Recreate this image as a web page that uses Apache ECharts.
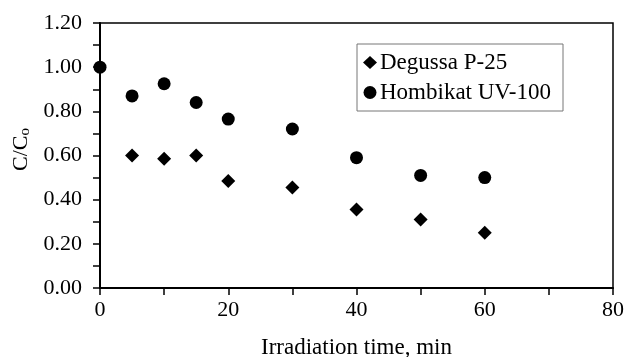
<!DOCTYPE html>
<html>
<head>
<meta charset="utf-8">
<script src="https://cdn.jsdelivr.net/npm/echarts@6/dist/echarts.min.js"></script>
<style>
  html, body { margin: 0; padding: 0; background: #fff; }
  #chart { width: 626px; height: 357px; }
</style>
</head>
<body>
<div id="chart"></div>
<script>
// irradiation time (min)
const TIMES_DEGUSSA = [5, 10, 15, 20, 30, 40, 50, 60]
const TIMES_HOMBIKAT = [0, 5, 10, 15, 20, 30, 40, 50, 60]
// C/Co
const DEGUSSA = [0.60, 0.585, 0.60, 0.485, 0.455, 0.355, 0.31, 0.25]
const HOMBIKAT = [1.00, 0.87, 0.925, 0.84, 0.765, 0.72, 0.59, 0.51, 0.50]

const FONT = 'Liberation Serif'
const pairs = (xs, ys) => xs.map((x, i) => [x, ys[i]])

const chart = echarts.init(document.getElementById('chart'))

chart.setOption({
  animation: false,
  textStyle: { fontFamily: FONT, color: '#000' },
  grid: {
    left: 100,
    right: 13,
    top: 23,
    bottom: 69,
    outerBoundsMode: 'none',
    show: true,
    borderColor: '#000',
    borderWidth: 1.5,
  },
  legend: {
    orient: 'vertical',
    left: 357,
    top: 44,
    padding: [7, 12, 7, 6],
    itemGap: 7,
    itemWidth: 14,
    itemHeight: 13,
    borderColor: '#777',
    borderWidth: 1,
    textStyle: { fontFamily: FONT, fontSize: 23, color: '#000', padding: [0, 0, 0, -2] },
    data: [
      { name: 'Degussa P-25', icon: 'diamond' },
      { name: 'Hombikat UV-100', icon: 'circle' },
    ],
  },
  xAxis: {
    type: 'value',
    min: 0,
    max: 80,
    interval: 20,
    name: 'Irradiation time, min',
    nameLocation: 'middle',
    nameGap: 48,
    nameTextStyle: { fontFamily: FONT, fontSize: 23, color: '#000' },
    axisLine: { lineStyle: { color: '#000', width: 2 } },
    axisTick: { length: 7, lineStyle: { color: '#000', width: 1.5 } },
    minorTick: { show: true, splitNumber: 2, length: 7, lineStyle: { color: '#000', width: 1.5 } },
    axisLabel: { fontFamily: FONT, fontSize: 22, color: '#000', margin: 11 },
    splitLine: { show: false },
  },
  yAxis: {
    type: 'value',
    min: 0,
    max: 1.2,
    interval: 0.2,
    name: 'C/C{sub|o}',
    nameLocation: 'middle',
    nameRotate: 90,
    nameGap: 66,
    nameTextStyle: {
      fontFamily: FONT,
      fontSize: 22,
      color: '#000',
      padding: [0, 0, 0, 12],
      rich: {
        sub: { fontFamily: FONT, fontSize: 15, color: '#000', verticalAlign: 'bottom', padding: [8, 0, 0, 0] },
      },
    },
    axisLine: { lineStyle: { color: '#000', width: 2 } },
    axisTick: { length: 7, lineStyle: { color: '#000', width: 1.5 } },
    minorTick: { show: true, splitNumber: 2, length: 7, lineStyle: { color: '#000', width: 1.5 } },
    axisLabel: {
      fontFamily: FONT,
      fontSize: 22,
      color: '#000',
      margin: 18,
      formatter: (v) => v.toFixed(2),
    },
    splitLine: { show: false },
  },
  series: [
    {
      name: 'Degussa P-25',
      type: 'scatter',
      symbol: 'diamond',
      symbolSize: 14,
      itemStyle: { color: '#000', opacity: 1 },
      data: pairs(TIMES_DEGUSSA, DEGUSSA),
    },
    {
      name: 'Hombikat UV-100',
      type: 'scatter',
      symbol: 'circle',
      symbolSize: 13,
      itemStyle: { color: '#000', opacity: 1 },
      data: pairs(TIMES_HOMBIKAT, HOMBIKAT),
    },
  ],
})
</script>
</body>
</html>
